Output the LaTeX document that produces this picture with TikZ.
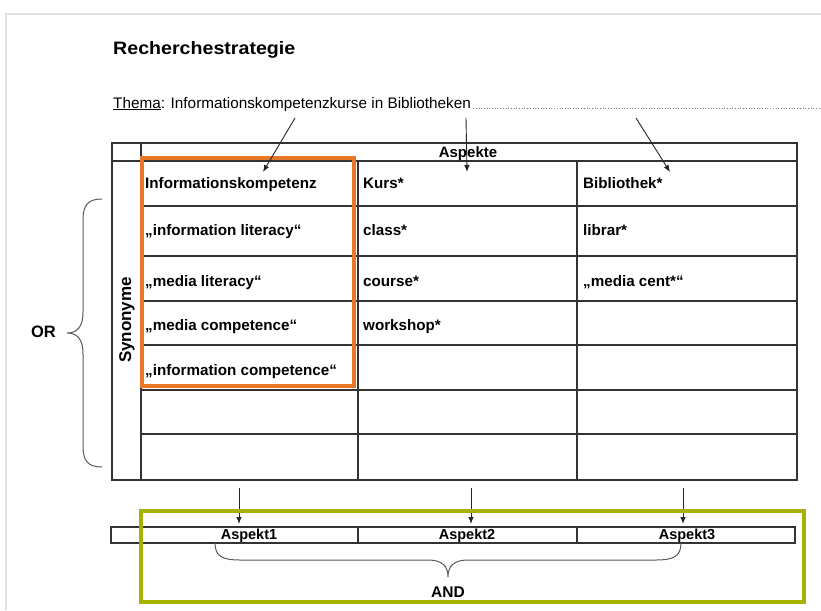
\documentclass[tikz,border=0pt]{standalone}
\usepackage{fontspec}
\setmainfont{Liberation Sans}
\usetikzlibrary{arrows.meta}
\definecolor{orangebox}{RGB}{232,119,40}
\definecolor{greenbox}{RGB}{166,178,0}
\definecolor{pageedge}{RGB}{225,225,225}
\begin{document}
\begin{tikzpicture}[x=1pt,y=-1pt,
  tline/.style={draw=black!80,line width=1.2pt},
  cell/.style={anchor=base west,inner sep=0pt,font=\fontsize{15.2}{18}\selectfont\bfseries},
  hdr/.style={inner sep=0pt,font=\fontsize{15}{18}\selectfont\bfseries},
  conn/.style={draw=black!85,line width=0.9pt,-{Latex[length=7pt,width=5.5pt]}},
  bracestyle/.style={draw=black!65,line width=1pt},
]
\useasboundingbox (0,0) rectangle (821,610);
\fill[white] (0,0) rectangle (821,610);
\draw[pageedge,line width=2pt] (6,610) -- (6,14) -- (821,14);

% title and topic
\node[anchor=base west,inner sep=0pt,font=\fontsize{18}{22}\selectfont\bfseries] (title) at (113,55) {\scalebox{1.09}[1]{Recherchestrategie}};
\node[anchor=base west,inner sep=0pt,font=\fontsize{15.3}{18}\selectfont] (thema) at (113,108) {\underline{Thema}: Informationskompetenzkurse in Bibliotheken};
\coordinate (dotend) at (821,108);
\draw[black!50,line width=0.9pt,dash pattern=on 0.9pt off 1.8pt] ([xshift=2pt]thema.base east) -- (dotend);

% table
\draw[tline,line width=1.4pt] (112,143) rectangle (797,480);
\draw[tline,line width=2pt] (112,161) -- (797,161);
\draw[tline] (141,143) -- (141,480);
\draw[tline] (358,161) -- (358,480);
\draw[tline] (577,161) -- (577,480);
\foreach \y in {206,256,301,345,390,434} \draw[tline] (141,\y) -- (797,\y);

\node[hdr,anchor=base] (aspekte) at (468,157) {Aspekte};
\node[hdr,rotate=90,font=\fontsize{17}{20}\selectfont\bfseries] (syn) at (127,320) {Synonyme};

\node[cell] (c11) at (145,188) {Informationskompetenz};
\node[cell] (c12) at (363,188) {Kurs*};
\node[cell] (c13) at (583,188) {Bibliothek*};
\node[cell] (c21) at (145,235) {„information literacy“};
\node[cell] (c22) at (363,235) {class*};
\node[cell] (c23) at (583,235) {librar*};
\node[cell] (c31) at (145,286) {„media literacy“};
\node[cell] (c32) at (363,286) {course*};
\node[cell] (c33) at (583,286) {„media cent*“};
\node[cell] (c41) at (145,330) {„media competence“};
\node[cell] (c42) at (363,330) {workshop*};
\node[cell] (c51) at (145,375) {„information competence“};

% orange highlight
\draw[orangebox,line width=3.6pt] (142,158) rectangle (354,386);

% arrows from topic
\coordinate (t1) at (295,118); \coordinate (h1) at (263,172);
\coordinate (t2) at (466,118); \coordinate (h2) at (467,172);
\coordinate (t3) at (636,118); \coordinate (h3) at (670,172);
\draw[conn] (t1) -- (h1);
\draw[conn] (t2) -- (h2);
\draw[conn] (t3) -- (h3);

% OR brace
\draw[bracestyle] (102,199) .. controls (88,199) and (83,205) .. (83,220) -- (83,312)
  .. controls (83,326) and (78,333) .. (67,333)
  .. controls (78,333) and (83,340) .. (83,354) -- (83,446)
  .. controls (83,461) and (88,467) .. (102,467);
\node[hdr,anchor=base,font=\fontsize{16.5}{20}\selectfont\bfseries] (or) at (43.5,337) {OR};

% bottom arrows
\coordinate (b1) at (239,488); \coordinate (e1) at (239,524);
\coordinate (b2) at (471,488); \coordinate (e2) at (471,524);
\coordinate (b3) at (683,488); \coordinate (e3) at (683,524);
\draw[conn] (b1) -- (e1);
\draw[conn] (b2) -- (e2);
\draw[conn] (b3) -- (e3);

% aspect row
\draw[tline] (111,527) rectangle (795,543);
\draw[tline] (358,527) -- (358,543);
\draw[tline] (577,527) -- (577,543);
\node[hdr,anchor=base,font=\fontsize{14.5}{17}\selectfont\bfseries] (a1) at (249,539) {Aspekt1};
\node[hdr,anchor=base,font=\fontsize{14.5}{17}\selectfont\bfseries] (a2) at (467,539) {Aspekt2};
\node[hdr,anchor=base,font=\fontsize{14.5}{17}\selectfont\bfseries] (a3) at (687,539) {Aspekt3};

% AND brace
\draw[bracestyle] (215,543) .. controls (215,556) and (222,560) .. (240,560) -- (428,560)
  .. controls (442,560) and (448,566) .. (448,577)
  .. controls (448,566) and (454,560) .. (468,560) -- (656,560)
  .. controls (674,560) and (681,556) .. (681,543);
\node[hdr,anchor=base,font=\fontsize{15.5}{18}\selectfont\bfseries] (and) at (448,597) {AND};

% green highlight
\draw[greenbox,line width=3.8pt] (141,511) rectangle (804,602);
\end{tikzpicture}
\end{document}
